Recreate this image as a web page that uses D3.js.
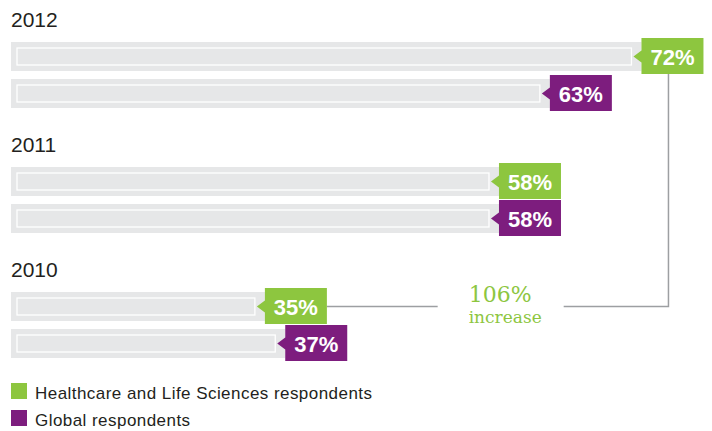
<!DOCTYPE html>
<html>
<head>
<meta charset="utf-8">
<script src="https://cdn.jsdelivr.net/npm/d3@7"></script>
<style>
  body { margin: 0; background: #fff; }
  text { font-family: "Liberation Sans", Arial, sans-serif; }
</style>
</head>
<body>
<svg id="chart"></svg>
<script>
// chart data
var years = ['2012', '2011', '2010'];
var healthcare = [72, 58, 35];
var globalResp = [63, 58, 37];
var seriesNames = ['Healthcare and Life Sciences respondents', 'Global respondents'];
var increaseLabel = ['106%', 'increase'];

var width = 712,
	height = 431,
	left = 11;

var green = '#8dc63f',
	purple = '#7d1d7e',
	grey = '#e6e7e8';

var barH = 29,
	rowGap = 37,
	groupGap = 125,
	groupTop = 42,
	boxW = 62;

// value -> arrow tip position
var xScale = d3.scaleLinear()
				.domain([30, 75])
				.range([206, 664]);

var yGroup = d3.scalePoint()
				.domain(years)
				.range([groupTop, groupTop + groupGap * (years.length - 1)]);

var rows = [];
years.forEach(function(y, i) {
	rows.push({year: y, value: healthcare[i], color: green, y: yGroup(y)});
	rows.push({year: y, value: globalResp[i], color: purple, y: yGroup(y) + rowGap});
});

var svg = d3.select('#chart')
			.attr('width', width)
			.attr('height', height);

// year labels
svg.selectAll('.year')
	.data(years)
	.enter()
	.append('text')
		.attr('x', left)
		.attr('y', d => yGroup(d) - 15)
		.style('font-size', '21px')
		.style('fill', '#231f20')
		.text(d => d);

// connector line for increase annotation (drawn beneath boxes)
var top72 = rows[0], low35 = rows[4];
var lineX = xScale(top72.value) + 8 + boxW / 2 - 4;
var lineY = low35.y + barH / 2;
var low35Right = xScale(low35.value) + 8 + boxW;
var midX = (low35Right + lineX) / 2;

svg.append('path')
	.attr('d', 'M' + lineX + ',' + (top72.y + barH) + 'V' + lineY + 'H' + (midX + 66))
	.attr('fill', 'none')
	.attr('stroke', '#9d9fa2')
	.attr('stroke-width', 1.5);

svg.append('path')
	.attr('d', 'M' + low35Right + ',' + lineY + 'H' + (midX - 60))
	.attr('fill', 'none')
	.attr('stroke', '#9d9fa2')
	.attr('stroke-width', 1.5);

svg.append('text')
	.attr('x', midX - 29)
	.attr('y', lineY - 5)
	.style('font-family', '"DejaVu Serif", serif')
	.style('font-weight', 200)
	.style('font-size', '22px')
	.style('fill', green)
	.text(increaseLabel[0]);

svg.append('text')
	.attr('x', midX - 29)
	.attr('y', lineY + 16)
	.style('font-family', '"DejaVu Serif", serif')
	.style('font-weight', 200)
	.style('font-size', '17px')
	.style('fill', green)
	.text(increaseLabel[1]);

// grey bars
var bars = svg.selectAll('.bar')
	.data(rows)
	.enter()
	.append('g');

bars.append('rect')
	.attr('x', left)
	.attr('y', d => d.y)
	.attr('width', d => xScale(d.value) + 8 - left)
	.attr('height', barH)
	.attr('fill', grey);

bars.append('rect')
	.attr('x', left + 6)
	.attr('y', d => d.y + 6)
	.attr('width', d => xScale(d.value) - left - 8)
	.attr('height', barH - 12)
	.attr('fill', 'none')
	.attr('stroke', '#fff')
	.attr('stroke-width', 1.3);

// value boxes with pointer
bars.append('path')
	.attr('d', function(d) {
		var tip = xScale(d.value), bx = tip + 8, mid = d.y + barH / 2;
		return 'M' + tip + ',' + mid + 'L' + bx + ',' + (mid - 6) +
			'V' + (d.y - 4) + 'H' + (bx + boxW) + 'V' + (d.y + barH + 3) +
			'H' + bx + 'V' + (mid + 6) + 'Z';
	})
	.attr('fill', d => d.color);

bars.append('text')
	.attr('x', d => xScale(d.value) + 8 + boxW / 2)
	.attr('y', d => d.y + barH / 2 + 8)
	.style('text-anchor', 'middle')
	.style('font-size', '22px')
	.style('font-weight', 'bold')
	.style('fill', '#fff')
	.text(d => d.value + '%');

// legend
var legend = svg.selectAll('.legend')
	.data(seriesNames)
	.enter()
	.append('g')
		.attr('transform', (d, i) => 'translate(' + left + ',' + (383 + i * 27) + ')');

legend.append('rect')
	.attr('width', 16)
	.attr('height', 16)
	.attr('fill', (d, i) => i === 0 ? green : purple);

legend.append('text')
	.attr('x', 24)
	.attr('y', 16)
	.style('font-size', '17px')
	.style('letter-spacing', '0.45px')
	.style('fill', '#231f20')
	.text(d => d);
</script>
</body>
</html>
